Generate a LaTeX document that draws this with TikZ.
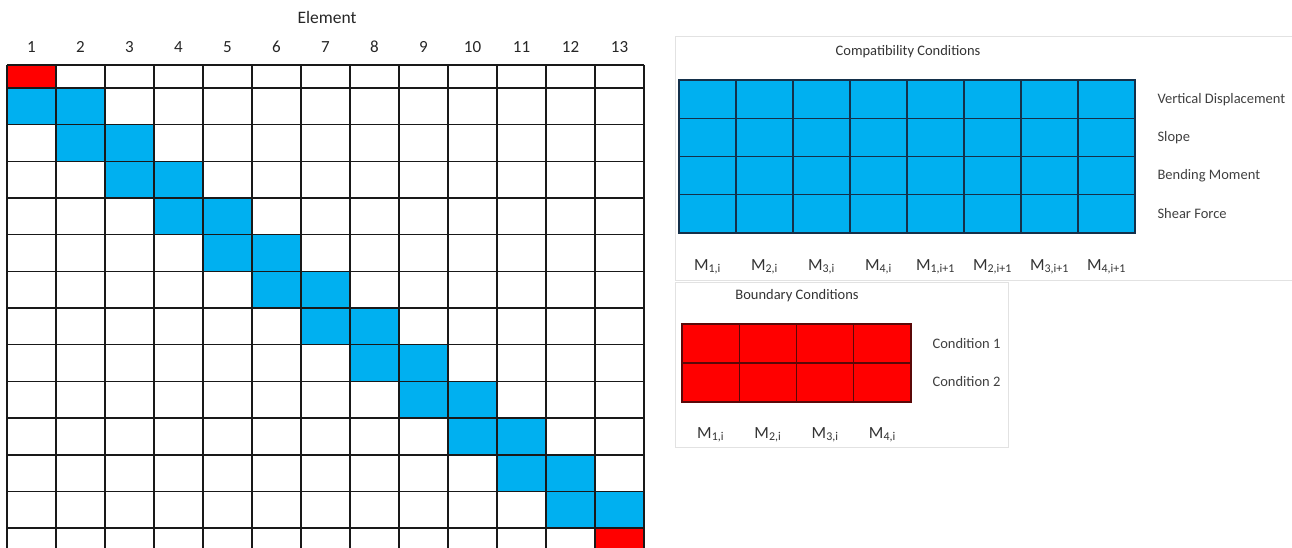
\documentclass[tikz,border=0pt]{standalone}
\usepackage{fontspec}
\setmainfont{Carlito}
\usetikzlibrary{positioning}
\definecolor{cellblue}{HTML}{00B0F0}
\definecolor{cellred}{HTML}{FF0000}
\definecolor{panelgray}{HTML}{E2E2E2}
\definecolor{gridnavy}{HTML}{14304A}
\definecolor{gridmaroon}{HTML}{5A0808}

\begin{document}
\begin{tikzpicture}[
  x=1pt, y=-1pt,
  numlbl/.style={font=\fontsize{17}{19}\selectfont, text=black!85},
  rowlbl/.style={anchor=west, font=\fontsize{14.5}{16}\selectfont, text=black!75},
  ttl/.style={font=\fontsize{14.5}{16}\selectfont, text=black!80},
  mlbl/.style={font=\fontsize{17}{19}\selectfont, text=black!80},
  panel/.style={draw=panelgray, line width=1pt},
  gridline/.style={line width=1.6pt, black!90}
]
\useasboundingbox (0,0) rectangle (1292,548);
\clip (0,0) rectangle (1292,548);
% Left: element matrix
\fill[cellred] (7,65) rectangle (56,88);
\foreach \k in {1,...,12}
  \fill[cellblue] ({7+49*(\k-1)},{88+36.67*(\k-1)}) rectangle ++(98,36.67);
\fill[cellred] (595,528) rectangle (644,560);
\foreach \c in {0,...,13}
  \draw[gridline] ({7+49*\c},65) -- ({7+49*\c},560);
\draw[gridline] (7,65) -- (644,65);
\foreach \r in {0,...,12}
  \draw[gridline] (7,{88+36.67*\r}) -- (644,{88+36.67*\r});
\foreach \c in {1,...,13}
  \node[numlbl] (n\c) at ({7+49*(\c-0.5)},47) {\c};
\node[numlbl, font=\fontsize{17.5}{19}\selectfont] (elem) at (327,17) {Element};
% Right: panels
\draw[panel] (675,37) rectangle (1300,280);
\draw[panel] (675,282) rectangle (1008,447);
% Compatibility conditions
\node[ttl] (compat) at (908,52) {Compatibility Conditions};
\fill[cellblue] (679,80) rectangle (1135,233);
\foreach \c in {1,...,7}
  \draw[line width=1.3pt, gridnavy] ({679+57*\c},80) -- ({679+57*\c},233);
\foreach \r in {1,...,3}
  \draw[line width=1.3pt, gridnavy] (679,{80+38.25*\r}) -- (1135,{80+38.25*\r});
\draw[line width=2pt, gridnavy] (907,80) -- (907,233);
\draw[line width=2pt, gridnavy] (679,80) rectangle (1135,233);
\node[rowlbl] (vd) at (1154,100) {Vertical Displacement};
\node[rowlbl] (sl) at (1154,138) {Slope};
\node[rowlbl] (bm) at (1154,176) {Bending Moment};
\node[rowlbl] (sf) at (1154,214) {Shear Force};
\foreach \k in {1,...,4}{
  \node[mlbl] (m\k) at ({707.5+57*(\k-1)},267) {M\textsubscript{\k,i}};
  \node[mlbl] (mn\k) at ({707.5+57*(\k+3)},267) {M\textsubscript{\k,i+1}};
}
% Boundary conditions
\node[ttl] (bound) at (797,296) {Boundary Conditions};
\fill[cellred] (682,324) rectangle (911,402);
\foreach \c in {1,...,3}
  \draw[line width=1.3pt, gridmaroon] ({682+57.25*\c},324) -- ({682+57.25*\c},402);
\draw[line width=1.3pt, gridmaroon] (682,363) -- (911,363);
\draw[line width=2pt, gridmaroon] (682,324) rectangle (911,402);
\node[rowlbl] (c1) at (929,344) {Condition 1};
\node[rowlbl] (c2) at (929,382) {Condition 2};
\foreach \k in {1,...,4}
  \node[mlbl] (b\k) at ({710.6+57.25*(\k-1)},435) {M\textsubscript{\k,i}};
\end{tikzpicture}
\end{document}
